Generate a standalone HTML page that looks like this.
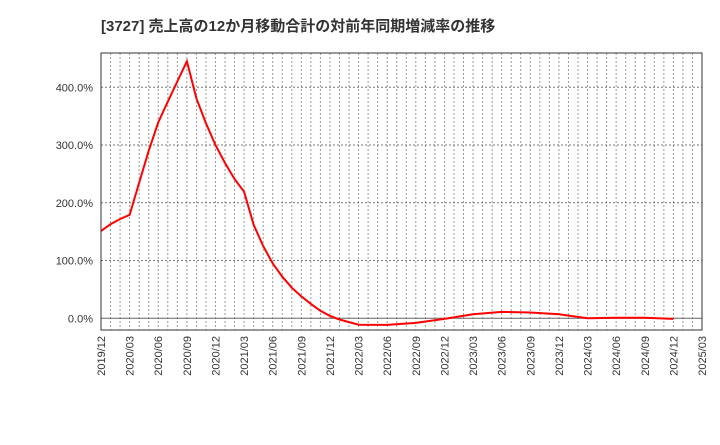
<!DOCTYPE html>
<html><head><meta charset="utf-8"><style>
body{margin:0;background:#fff;font-family:"Liberation Sans","Noto Sans CJK JP",sans-serif;}
</style></head><body>
<svg width="720" height="440" xmlns="http://www.w3.org/2000/svg">
<text x="101" y="31" font-size="15" font-weight="bold" fill="#333" font-family="Liberation Sans,Noto Sans CJK JP,sans-serif">[3727]  売上高の12か月移動合計の対前年同期増減率の推移</text>
<g id="grid"></g><g id="axes"></g>
<path id="line" fill="none" stroke="#ff0000" stroke-width="2"/>
<rect x="101" y="53" width="601" height="277" fill="none" stroke="#333" stroke-width="1"/>
</svg>
<script>
const months = [0,1,2,3,4,5,6,7,8,9,10,11,12,13,14,15,16,17,18,19,20,21,22,23,24,25,27,30,33,36,39,42,45,48,51,54,57,60];
const values = [151,163,172,179,235,290,339,375,410,445,381,338,300,269,241,219,162,125,95,72,53,38,25,13,4,-2,-11,-11.5,-8,-1,7,11,10,7,0,1,1,-1];
const yTicks = [0,100,200,300,400];
const xLabels = ["2019/12","2020/03","2020/06","2020/09","2020/12","2021/03","2021/06","2021/09","2021/12","2022/03","2022/06","2022/09","2022/12","2023/03","2023/06","2023/09","2023/12","2024/03","2024/06","2024/09","2024/12","2025/03"];
const ns="http://www.w3.org/2000/svg";
const x0=101,x1=702,totalMonths=63;
const X=m=>x0+(x1-x0)*m/totalMonths;
const Y=v=>318.3-v*0.5775;
const grid=document.getElementById('grid'),axes=document.getElementById('axes');
for(let m=1;m<totalMonths;m++){
 const l=document.createElementNS(ns,'line');
 
 
 l.setAttribute('x1',X(m));l.setAttribute('x2',X(m));l.setAttribute('y1',53);l.setAttribute('y2',330);
 l.setAttribute('stroke','#999');l.setAttribute('stroke-dasharray','2,2');grid.appendChild(l);
}
yTicks.forEach(v=>{
 const l=document.createElementNS(ns,'line');
 
 
 l.setAttribute('x1',x0);l.setAttribute('x2',x1);l.setAttribute('y1',Y(v));l.setAttribute('y2',Y(v));
 if(v===0){l.setAttribute('stroke','#666');}else{l.setAttribute('stroke','#777');l.setAttribute('stroke-dasharray','2,2');}
 grid.appendChild(l);
 const t=document.createElementNS(ns,'text');
 
 
 t.setAttribute('x',93);t.setAttribute('y',Y(v)+4);t.setAttribute('text-anchor','end');t.setAttribute('font-size','11');t.setAttribute('fill','#333');
 t.textContent=v.toFixed(1)+'%';axes.appendChild(t);
});
xLabels.forEach((s,i)=>{
 const t=document.createElementNS(ns,'text');
 
 
 const x=X(i*3);
 t.setAttribute('transform','translate('+(x+4)+',336) rotate(-90)');
 t.setAttribute('text-anchor','end');t.setAttribute('font-size','11');t.setAttribute('fill','#333');
 t.textContent=s;axes.appendChild(t);
});
document.getElementById('line').setAttribute('d',months.map((m,i)=>(i?'L':'M')+X(m).toFixed(1)+','+Y(values[i]).toFixed(1)).join(''));
</script>
</body></html>
